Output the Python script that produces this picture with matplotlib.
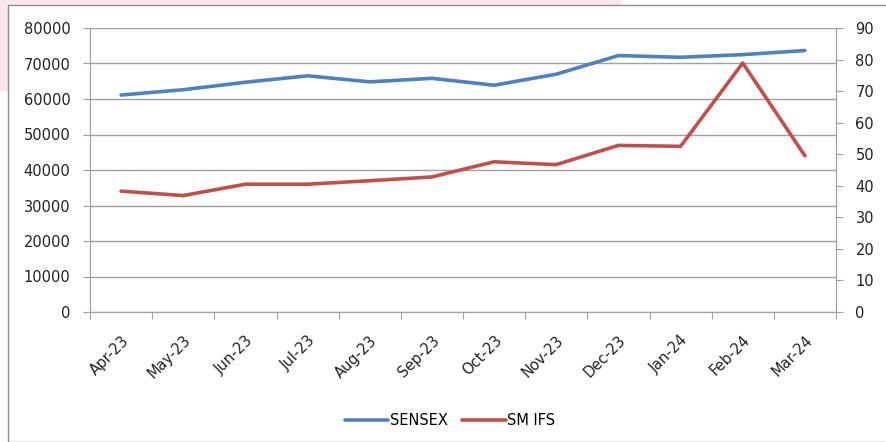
import matplotlib.pyplot as plt
import matplotlib.patches as patches

# data
months = ['Apr-23', 'May-23', 'Jun-23', 'Jul-23', 'Aug-23', 'Sep-23',
          'Oct-23', 'Nov-23', 'Dec-23', 'Jan-24', 'Feb-24', 'Mar-24']
sensex = [61112, 62622, 64719, 66527, 64831, 65828,
          63875, 66988, 72240, 71752, 72500, 73651]
smifs = [38.3, 36.9, 40.5, 40.5, 41.6, 42.8,
         47.6, 46.7, 52.8, 52.5, 78.9, 49.5]

blue = '#4F81BD'
red = '#C0504D'
grey = '#A0A0A0'

plt.rcParams['font.family'] = 'DejaVu Sans'

fig = plt.figure(figsize=(8.86, 4.42), dpi=100)
fig.patch.set_facecolor('white')

# pink background in the top-left corner, chart frame on top of it
W, H = 886, 442
fig.patches.append(patches.Rectangle((0, 1 - 90 / H), 620 / W, 90 / H,
                                     transform=fig.transFigure, color='#FCE6EE', zorder=-2))
fig.patches.append(patches.Rectangle((8 / W, 0), 1.0, 1 - 5 / H,
                                     transform=fig.transFigure, facecolor='white',
                                     edgecolor='#8C8C8C', linewidth=1, zorder=-1))

ax = fig.add_axes([90 / W, 1 - 312 / H, 746 / W, 284 / H])
ax2 = ax.twinx()

x = list(range(len(months)))
ax.plot(x, sensex, color=blue, linewidth=2.6, solid_capstyle='round', zorder=3)
ax2.plot(x, smifs, color=red, linewidth=2.6, solid_capstyle='round', zorder=3)

ax.set_xlim(-0.5, len(months) - 0.5)
ax.set_ylim(0, 80000)
ax.set_yticks(range(0, 80001, 10000))
ax2.set_ylim(0, 90)
ax2.set_yticks(range(0, 91, 10))

# category boundaries as ticks, labels at centres
ax.set_xticks([i - 0.5 for i in range(len(months) + 1)])
ax.set_xticklabels([])
ax.set_xticks(x, minor=True)
ax.set_xticklabels(months, minor=True, rotation=45, ha='right',
                   rotation_mode='anchor', fontsize=10.5, color='#222222')
ax.tick_params(axis='x', which='minor', length=0, pad=15)
ax.tick_params(axis='x', which='major', length=5, color=grey, direction='out')

ax.tick_params(axis='y', length=5, color=grey, labelsize=10.5, labelcolor='#222222', pad=9)
ax2.tick_params(axis='y', length=5, color=grey, labelsize=10.5, labelcolor='#222222', pad=9)

ax.grid(axis='y', color=grey, linewidth=1)
ax.set_axisbelow(True)
for a in (ax, ax2):
    for s in ['top']:
        a.spines[s].set_visible(False)
    for s in ['left', 'right', 'bottom']:
        a.spines[s].set_color(grey)
ax.patch.set_visible(False)
ax2.patch.set_visible(False)

lines = [ax.get_lines()[0], ax2.get_lines()[0]]
fig.legend(lines, ['SENSEX', 'SM IFS'], loc='center', bbox_to_anchor=(0.508, 0.048),
           ncol=2, frameon=False, fontsize=10.5, handlelength=3.0,
           handletextpad=0.1, columnspacing=1.0)

fig.savefig('out.png', dpi=100)
